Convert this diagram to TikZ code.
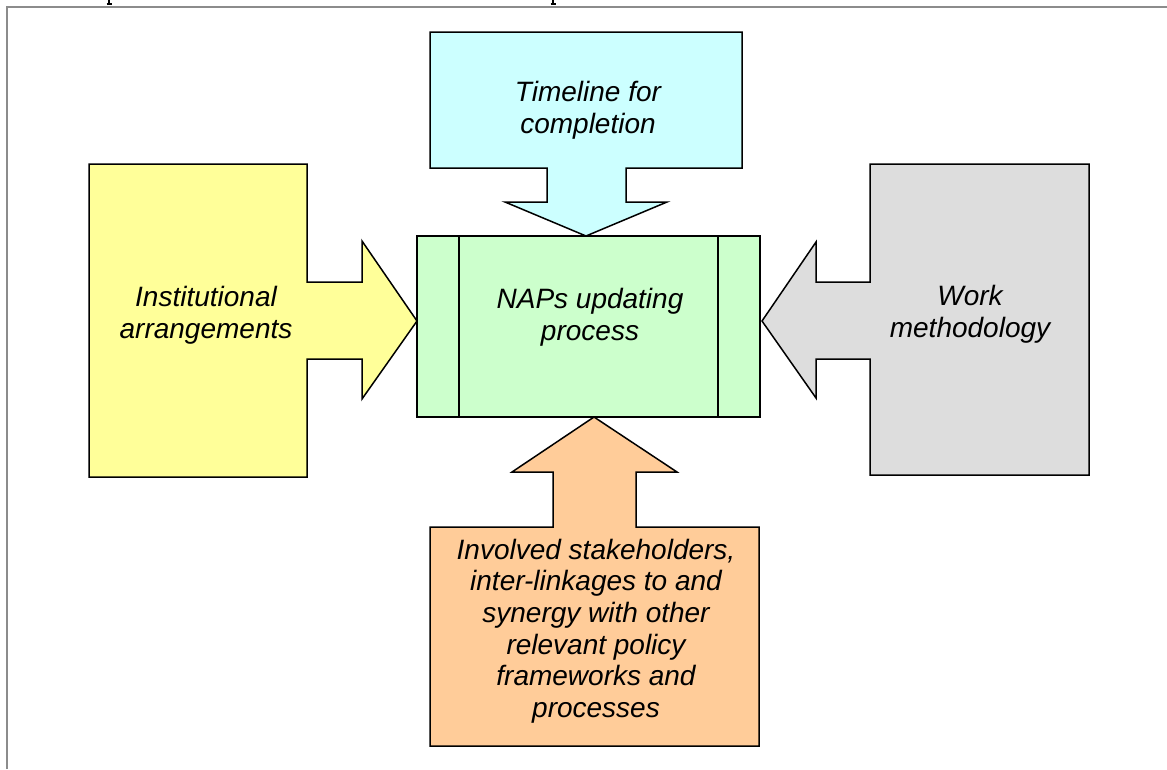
\documentclass[tikz,border=0pt]{standalone}
\usepackage{fontspec}
\setmainfont{Liberation Sans}
\begin{document}
\begin{tikzpicture}[x=1pt,y=-1pt,
  shapeline/.style={draw=black,line width=1.5pt,line join=miter},
  lbl/.style={font=\fontsize{28}{31.7}\selectfont\itshape,align=center,inner sep=0pt},
  framerule/.style={draw=black!45,line width=2pt}]
\useasboundingbox (0,0) rectangle (1167,769);
\definecolor{cyanfill}{HTML}{CCFFFF}
\definecolor{yellowfill}{HTML}{FFFF99}
\definecolor{greenfill}{HTML}{CCFFCC}
\definecolor{grayfill}{HTML}{DDDDDD}
\definecolor{orangefill}{HTML}{FFCC99}
% frame
\draw[framerule] (7,769) -- (7,7) -- (1167,7);
% cut-off glyph descenders at the top
\draw[line width=1.2pt] (109,0) -- (109,4) (106.5,4) -- (111.5,4);
\draw[line width=1.2pt] (553,0) -- (553,4) (550.5,4) -- (555.5,4);
% top (cyan) arrow
\path[shapeline,fill=cyanfill] (430,32) -- (742,32) -- (742,168) -- (626,168) -- (626,202) -- (667,202)
  -- (586,236) -- (505,202) -- (547,202) -- (547,168) -- (430,168) -- cycle;
% left (yellow) arrow
\path[shapeline,fill=yellowfill] (89,164) -- (307,164) -- (307,282) -- (362,282) -- (362,241)
  -- (417,321) -- (362,399) -- (362,359) -- (307,359) -- (307,477) -- (89,477) -- cycle;
% right (gray) arrow
\path[shapeline,fill=grayfill] (1089,164) -- (870,164) -- (870,282) -- (816,282) -- (816,242)
  -- (762,321) -- (816,398) -- (816,359) -- (870,359) -- (870,475) -- (1089,475) -- cycle;
% bottom (orange) arrow
\path[shapeline,fill=orangefill] (430,746) -- (759,746) -- (759,527) -- (636,527) -- (636,472) -- (677,472)
  -- (594,417) -- (512,472) -- (553,472) -- (553,527) -- (430,527) -- cycle;
% centre process box
\path[shapeline,fill=greenfill] (417,236) rectangle (760,417);
\draw[shapeline] (459,236) -- (459,417) (718,236) -- (718,417);
% labels
\node[lbl] (timeline) at (588,110) {Timeline for\\completion};
\node[lbl] (inst) at (206,315) {Institutional\\arrangements};
\node[lbl] (work) at (970,314) {Work\\methodology};
\node[lbl] (naps) at (590,317) {NAPs updating\\process};
\node[lbl] (stake) at (596,631) {Involved stakeholders,\\inter-linkages to and\\synergy with other\\relevant policy\\frameworks and\\processes};
\end{tikzpicture}
\end{document}
